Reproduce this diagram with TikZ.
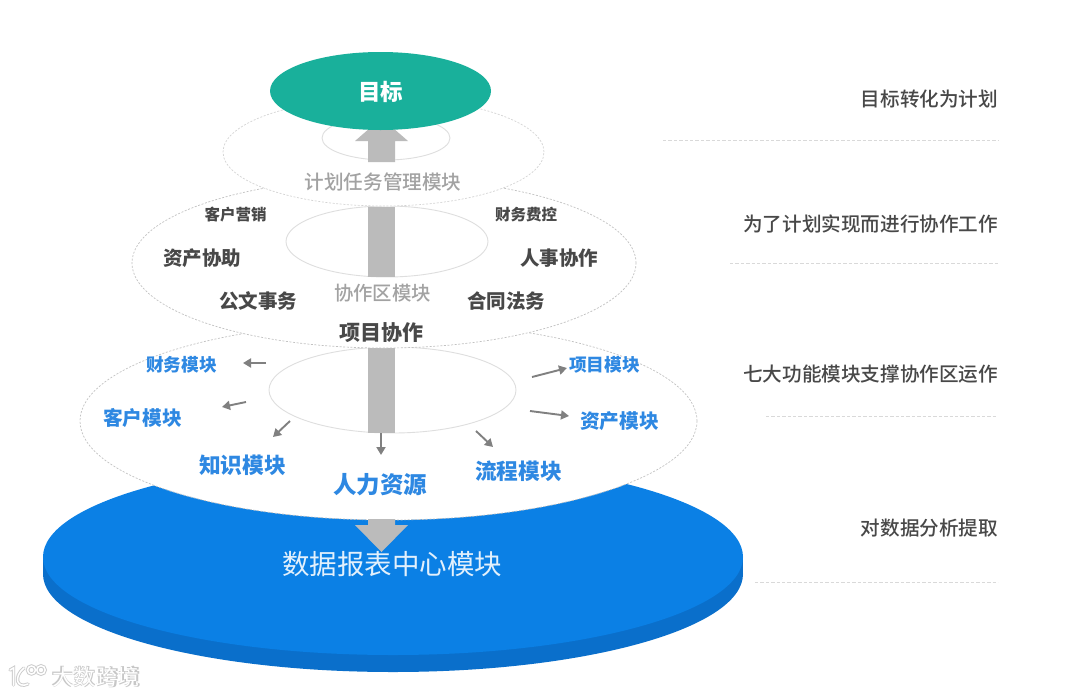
\documentclass[tikz,border=0pt]{standalone}
\usepackage{fontspec}
\setmainfont{Noto Sans CJK SC}
\newfontfamily\medcjk{Noto Sans CJK SC Medium}
\usetikzlibrary{shapes.geometric,arrows.meta}
\definecolor{tealc}{HTML}{19B09B}
\definecolor{discblue}{HTML}{0B80E5}
\definecolor{discdark}{HTML}{0A6FCB}
\definecolor{shaftgray}{HTML}{BBBBBB}
\definecolor{labelblue}{HTML}{2E88E2}
\definecolor{labeldark}{HTML}{484848}
\definecolor{labelgray}{HTML}{A2A2A2}
\newcommand{\fs}[1]{\fontsize{#1}{#1}\selectfont}
\tikzset{
  disc/.style={ellipse,inner sep=0pt,outer sep=0pt},
  tier/.style={disc,fill=white,draw=black!24,line width=.7pt,dash pattern=on 2pt off 1.6pt},
  inner ring/.style={disc,draw=black!13,line width=.9pt},
  lab/.style={inner sep=0pt,outer sep=0pt,anchor=center},
  darklab/.style={lab,text=labeldark,font=\bfseries},
  bluelab/.style={lab,text=labelblue,font=\bfseries},
  graylab/.style={lab,text=labelgray},
  sidelab/.style={lab,anchor=east,text=labeldark,font=\medcjk\fs{19.6}},
  rule/.style={draw=black!15,line width=.9pt,dash pattern=on 3.4pt off 2pt},
  spoke/.style={draw=black!50,line width=1.9pt,-{Triangle[length=8pt,width=9pt]}},
  shaft/.style={fill=shaftgray},
}
\begin{document}
\begin{tikzpicture}[x=1pt,y=-1pt]
\useasboundingbox (0,0) rectangle (1080,697);
\fill[white] (0,0) rectangle (1080,697);
% data disc
\fill[discdark] (43,557) rectangle (743,574);
\node[disc,fill=discdark,minimum width=700pt,minimum height=196pt] (discbase) at (393,574) {};
\node[disc,fill=discblue,minimum width=700pt,minimum height=196pt] (disctop) at (393,557) {};
% tier 3
\node[tier,minimum width=617pt,minimum height=198pt] (tierc) at (388.5,421) {};
\node[inner ring,minimum width=247pt,minimum height=86pt] (ringc) at (392.5,390) {};
\fill[shaft] (368,348) rectangle (395,433);
% arrow into disc
\fill[shaft] (368,519) -- (395,519) -- (395,525) -- (408,525) -- (381.5,552) -- (355,525) -- (368,525) -- cycle;
% tier 2
\node[tier,minimum width=504pt,minimum height=170pt] (tierb) at (384,263) {};
\node[inner ring,minimum width=202pt,minimum height=71pt] (ringb) at (387,241.5) {};
\fill[shaft] (368,207) rectangle (395,277);
% tier 1
\node[tier,draw=black!17,minimum width=321pt,minimum height=108pt] (tiera) at (383.5,152) {};
\node[inner ring,minimum width=128pt,minimum height=44pt] (ringa) at (386,138) {};
\fill[shaft] (368,162) -- (368,141) -- (355,141) -- (381.5,118) -- (408,141) -- (395,141) -- (395,162) -- cycle;
% goal
\node[disc,fill=tealc,minimum width=221pt,minimum height=78pt] (goal) at (380.5,91) {};
\node[lab,text=white,font=\bfseries\fs{22.5}] (goaltext) at (380.5,92) {目标};
% tier labels
\node[graylab,font=\medcjk\fs{19.6}] (tatext) at (383,182) {计划任务管理模块};
\node[darklab,font=\bfseries\fs{15.5}] (kh) at (235.5,215) {客户营销};
\node[darklab,font=\bfseries\fs{15.5}] (cw) at (526,215) {财务费控};
\node[darklab,font=\bfseries\fs{19.5}] (zc) at (202,258.5) {资产协助};
\node[darklab,font=\bfseries\fs{19.5}] (rs) at (559,258.5) {人事协作};
\node[darklab,font=\bfseries\fs{19.5}] (gw) at (258,301.5) {公文事务};
\node[darklab,font=\bfseries\fs{19.5}] (ht) at (506,301.5) {合同法务};
\node[graylab,font=\medcjk\fs{19.4}] (xz) at (382.5,293.5) {协作区模块};
\node[darklab,font=\bfseries\fs{21}] (xm) at (381,332.5) {项目协作};
% module labels
\node[bluelab,font=\bfseries\fs{17.7}] (m1) at (181.5,364.5) {财务模块};
\node[bluelab,font=\bfseries\fs{17.7}] (m2) at (604.5,364.5) {项目模块};
\node[bluelab,font=\bfseries\fs{19.7}] (m3) at (142.5,417.5) {客户模块};
\node[bluelab,font=\bfseries\fs{19.7}] (m4) at (619.5,421.5) {资产模块};
\node[bluelab,font=\bfseries\fs{21.7}] (m5) at (242.5,465.5) {知识模块};
\node[bluelab,font=\bfseries\fs{21.7}] (m6) at (518.5,471.5) {流程模块};
\node[bluelab,font=\bfseries\fs{23.5}] (m7) at (380,484.5) {人力资源};
\node[lab,text=white!88!discblue,font=\fs{27.5}] (disctext) at (392,564.5) {数据报表中心模块};
% spokes
\coordinate (s1a) at (266,363); \coordinate (s1b) at (243,363);
\coordinate (s2a) at (246,402); \coordinate (s2b) at (222,407);
\coordinate (s3a) at (290,421); \coordinate (s3b) at (273,437);
\coordinate (s4a) at (381,433); \coordinate (s4b) at (381,455);
\coordinate (s5a) at (476,431); \coordinate (s5b) at (493,447);
\coordinate (s6a) at (530,411); \coordinate (s6b) at (569,416);
\coordinate (s7a) at (532,377); \coordinate (s7b) at (567,368);
\foreach \k in {1,...,7} \draw[spoke] (s\k a) -- (s\k b);
% side labels and rules
\node[sidelab] (r1) at (998,99.5) {目标转化为计划};
\node[sidelab] (r2) at (998,223.5) {为了计划实现而进行协作工作};
\node[sidelab] (r3) at (998,374) {七大功能模块支撑协作区运作};
\node[sidelab] (r4) at (998,528.5) {对数据分析提取};
\coordinate (l1a) at (663,140); \coordinate (l1b) at (998,140);
\coordinate (l2a) at (730,263.5); \coordinate (l2b) at (998,263.5);
\coordinate (l3a) at (766,416); \coordinate (l3b) at (998,416);
\coordinate (l4a) at (755,582); \coordinate (l4b) at (998,582);
\foreach \k in {1,...,4} \draw[rule] (l\k a) -- (l\k b);
% watermark
\begin{scope}[line cap=round]
\foreach \w/\c in {3.4/black!20,1.5/white}{
  \draw[line width=\w pt,color=\c] (10,670) -- (13.5,668) -- (13.5,685);
  \draw[line width=\w pt,color=\c] (28,684) .. controls (17,689) and (13,677) .. (24,668);
  \draw[line width=\w pt,color=\c] (31.5,670) circle[radius=4];
  \draw[line width=\w pt,color=\c] (41,670) circle[radius=4.2];
}
\end{scope}
\node[lab,text=black!22,font=\bfseries\fs{22.5}] (wm) at (96,677) {大数跨境};
\node[lab,text=white,font=\fs{22}] (wmtop) at (96,677) {大数跨境};
\end{tikzpicture}
\end{document}
